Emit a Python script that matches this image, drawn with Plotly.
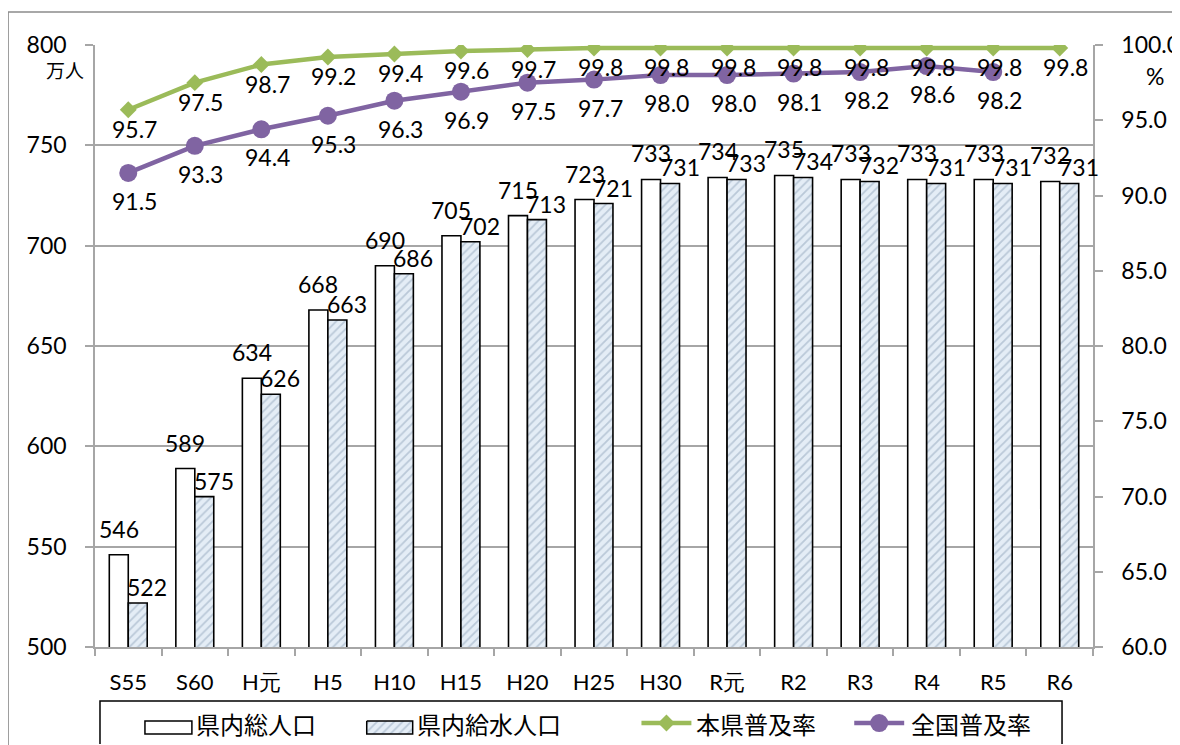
import plotly.graph_objects as go

# ---------------- data ----------------
categories = ["S55", "S60", "H元", "H5", "H10", "H15", "H20", "H25",
              "H30", "R元", "R2", "R3", "R4", "R5", "R6"]
total_pop = [546, 589, 634, 668, 690, 705, 715, 723, 733, 734, 735, 733, 733, 733, 732]
served_pop = [522, 575, 626, 663, 686, 702, 713, 721, 731, 733, 734, 732, 731, 731, 731]
pref_rate = [95.7, 97.5, 98.7, 99.2, 99.4, 99.6, 99.7, 99.8, 99.8, 99.8, 99.8, 99.8, 99.8, 99.8, 99.8]
national_rate = [91.5, 93.3, 94.4, 95.3, 96.3, 96.9, 97.5, 97.7, 98.0, 98.0, 98.1, 98.2, 98.6, 98.2, None]
series_names = ["県内総人口", "県内給水人口", "本県普及率", "全国普及率"]
left_unit = "万人"
right_unit = "%"

# ---------------- style ----------------
BODY = 8                 # page body margin
LOST = 12                # bottom strip that the page loses
SCR_W, SCR_H = 1180, 745
W, H = SCR_W - BODY, SCR_H - BODY + LOST
PL, PR, PT, PB = 95, 1094, 45, 745        # plot area in window pixels
ML, MR, MT, MB = PL - BODY, SCR_W - PR, PT - BODY, 0
PW, PH = PR - PL, PB - PT
PLOT_BOTTOM_PX = 648
GREEN = "#9BBB59"
PURPLE = "#8064A2"
GRID = "#A6A6A6"
NUM_FONT = "Lato, Noto Sans, sans-serif"
CJK_FONT = "Noto Sans CJK JP, sans-serif"
HATCH = dict(shape="/", fgcolor="#8FA4BA", bgcolor="#E4EDF6", size=6, solidity=0.3)


def px_x(px):
    return (px - PL) / PW


def px_y(py):
    return (PB - py) / PH


fig = go.Figure()

fig.add_trace(go.Bar(x=categories, y=total_pop, name=series_names[0],
                     marker=dict(color="white", line=dict(color="black", width=1.6)),
                     showlegend=False))
fig.add_trace(go.Bar(x=categories, y=served_pop, name=series_names[1],
                     marker=dict(color="#E4EDF6", pattern=HATCH,
                                 line=dict(color="black", width=1.6)),
                     showlegend=False))
fig.add_trace(go.Scatter(x=categories, y=pref_rate, name=series_names[2], yaxis="y2",
                         mode="lines+markers", line=dict(color=GREEN, width=4.5),
                         marker=dict(symbol="diamond", size=13, color=GREEN),
                         showlegend=False))
fig.add_trace(go.Scatter(x=categories, y=national_rate, name=series_names[3], yaxis="y2",
                         mode="lines+markers", line=dict(color=PURPLE, width=4.5),
                         marker=dict(symbol="circle", size=18, color=PURPLE),
                         showlegend=False))

annotations = []
lab_font = dict(family=NUM_FONT, size=23, color="black")
for c, v in zip(categories, total_pop):
    annotations.append(dict(x=c, y=v, xref="x", yref="y", text=str(v), showarrow=False,
                            xanchor="center", yanchor="bottom", xshift=-9.5, yshift=10,
                            font=lab_font))
for c, v in zip(categories, served_pop):
    annotations.append(dict(x=c, y=v, xref="x", yref="y", text=str(v), showarrow=False,
                            xanchor="center", yanchor="bottom", xshift=19, yshift=0,
                            font=lab_font))
for c, v in zip(categories, pref_rate):
    annotations.append(dict(x=c, y=v, xref="x", yref="y2", text=f"{v:.1f}", showarrow=False,
                            xanchor="center", yanchor="middle", xshift=6, yshift=-19,
                            font=lab_font))
for c, v in zip(categories, national_rate):
    if v is None:
        continue
    annotations.append(dict(x=c, y=v, xref="x", yref="y2", text=f"{v:.1f}", showarrow=False,
                            xanchor="center", yanchor="middle", xshift=6, yshift=-28,
                            font=lab_font))

# axis unit labels
annotations.append(dict(x=px_x(65), y=px_y(70), xref="paper", yref="paper", text=left_unit,
                        showarrow=False, xanchor="center", yanchor="middle",
                        font=dict(family=CJK_FONT, size=19, color="black")))
annotations.append(dict(x=px_x(1156), y=px_y(76), xref="paper", yref="paper", text=right_unit,
                        showarrow=False, xanchor="center", yanchor="middle",
                        font=dict(family=NUM_FONT, size=23, color="black")))

# ---------------- custom legend (pixel axes x3/y3) ----------------
LEG_Y = 724
leg_font = dict(family=CJK_FONT, size=24, color="black")
fig.add_trace(go.Scatter(x=[367, 413, 413, 367, 367], y=[722, 722, 735, 735, 722],
                         xaxis="x3", yaxis="y3", mode="lines", fill="toself",
                         fillcolor="#E4EDF6", fillpattern=HATCH,
                         line=dict(color="black", width=1.5), showlegend=False,
                         hoverinfo="skip"))
fig.add_trace(go.Scatter(x=[642, 692], y=[LEG_Y, LEG_Y], xaxis="x3", yaxis="y3",
                         mode="lines", line=dict(color=GREEN, width=4.5),
                         showlegend=False, hoverinfo="skip"))
fig.add_trace(go.Scatter(x=[667], y=[LEG_Y], xaxis="x3", yaxis="y3", mode="markers",
                         marker=dict(symbol="diamond", size=13, color=GREEN),
                         showlegend=False, hoverinfo="skip"))
fig.add_trace(go.Scatter(x=[855, 905], y=[LEG_Y, LEG_Y], xaxis="x3", yaxis="y3",
                         mode="lines", line=dict(color=PURPLE, width=4.5),
                         showlegend=False, hoverinfo="skip"))
fig.add_trace(go.Scatter(x=[880], y=[LEG_Y], xaxis="x3", yaxis="y3", mode="markers",
                         marker=dict(symbol="circle", size=18, color=PURPLE),
                         showlegend=False, hoverinfo="skip"))

for tx, name in zip([194, 415, 695, 910], series_names):
    annotations.append(dict(x=tx, y=LEG_Y, xref="x3", yref="y3", text=name, showarrow=False,
                            xanchor="left", yanchor="middle", font=leg_font))

shapes = [
    # outer chart border
    dict(type="rect", xref="paper", yref="paper", x0=px_x(8), x1=px_x(1200),
         y0=px_y(760), y1=px_y(12), line=dict(color="#8C8C8C", width=1.5),
         fillcolor="rgba(0,0,0,0)", layer="below"),
    # legend box
    dict(type="rect", xref="x3", yref="y3", x0=100, x1=1063, y0=702, y1=770,
         line=dict(color="black", width=1.5), fillcolor="rgba(0,0,0,0)"),
    # white legend swatch
    dict(type="rect", xref="x3", yref="y3", x0=145, x1=192, y0=722, y1=735,
         line=dict(color="black", width=1.5), fillcolor="white"),
]

dom_bottom = px_y(PLOT_BOTTOM_PX)
tick_font = dict(family=NUM_FONT, size=23, color="black")

fig.update_layout(
    width=W, height=H,
    margin=dict(l=ML, r=MR, t=MT, b=MB, pad=0),
    paper_bgcolor="white", plot_bgcolor="rgba(0,0,0,0)",
    barmode="group", bargap=0.43, bargroupgap=0,
    showlegend=False,
    annotations=annotations, shapes=shapes,
    xaxis=dict(type="category", domain=[0, 1], anchor="y", showgrid=False,
               range=[-0.5, len(categories) - 0.5], autorange=False,
               showline=True, linecolor=GRID, linewidth=1.5,
               ticks="outside", tickson="boundaries", ticklen=7, tickcolor=GRID,
               tickwidth=1.5, tickfont=dict(family=NUM_FONT, size=22, color="black"),
               ticklabelstandoff=15),
    yaxis=dict(domain=[dom_bottom, 1], range=[500, 800], dtick=50, tick0=500,
               showgrid=True, gridcolor=GRID, gridwidth=1.5,
               showline=True, linecolor=GRID, linewidth=1.5,
               ticks="outside", ticklen=8, tickcolor=GRID, tickwidth=1.5,
               tickfont=tick_font, ticklabelstandoff=14, zeroline=False),
    yaxis2=dict(domain=[dom_bottom, 1], overlaying="y", side="right", anchor="x",
                range=[60, 100], dtick=5, tick0=60, tickformat=".1f",
                showgrid=False, showline=True, linecolor=GRID, linewidth=1.5,
                ticks="outside", ticklen=8, tickcolor=GRID, tickwidth=1.5,
                tickfont=tick_font, ticklabelstandoff=14, zeroline=False),
    xaxis3=dict(domain=[0, 1], range=[PL, PR], anchor="y3", visible=False,
                fixedrange=True),
    yaxis3=dict(domain=[0, 1], range=[PB, PT], anchor="x3", visible=False,
                fixedrange=True),
)

fig.write_html("out.html")
